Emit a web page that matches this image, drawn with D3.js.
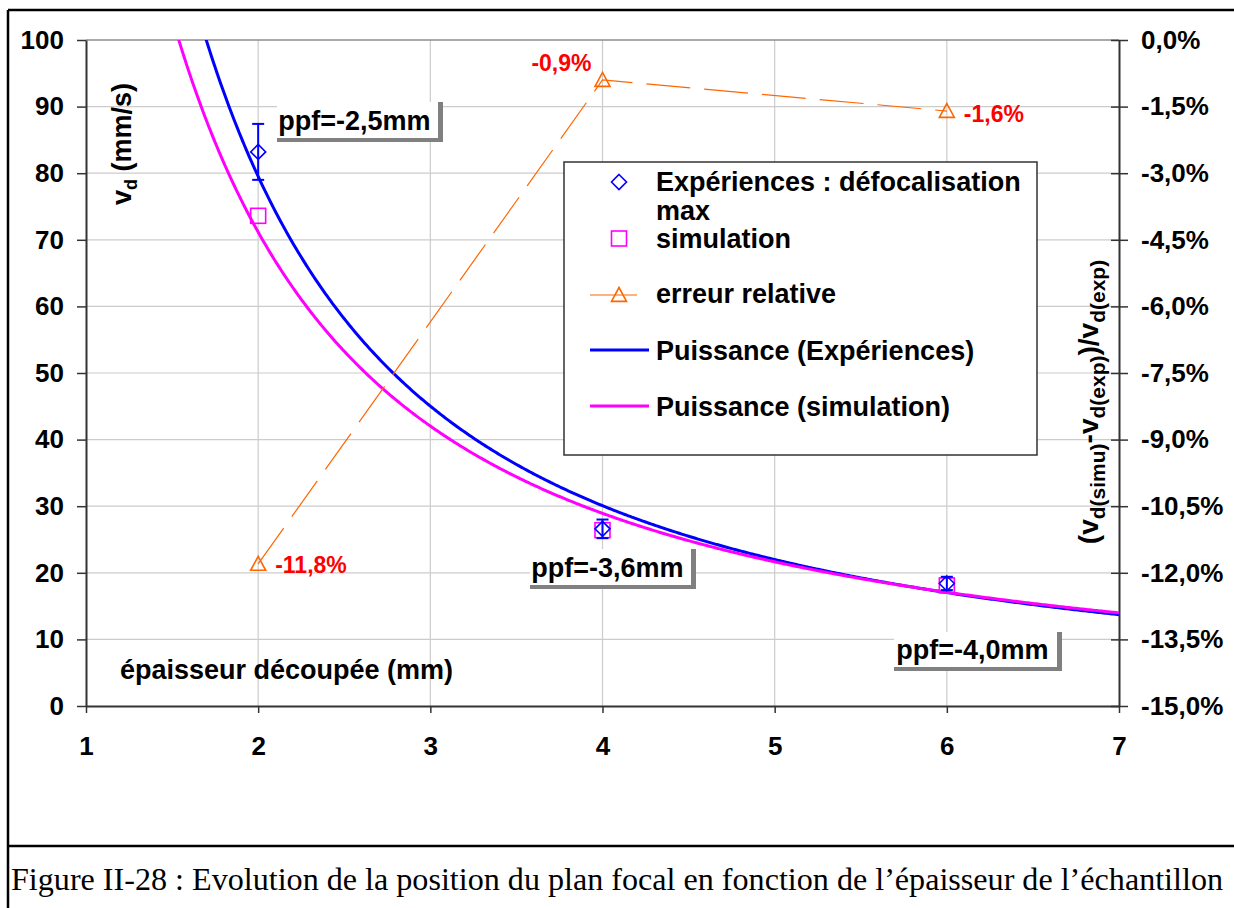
<!DOCTYPE html>
<html>
<head>
<meta charset="utf-8">
<script src="https://cdn.jsdelivr.net/npm/d3@7/dist/d3.min.js"></script>
<style>
  html, body { margin: 0; padding: 0; background: #ffffff; }
  svg { display: block; }
</style>
</head>
<body>
<script>
// Cut thickness (mm) and measured / simulated cutting speeds
const thickness = [2, 4, 6];
const vdExp = [83.2, 26.6, 18.4];
const vdExpErr = [4.2, 1.4, 1.0];
const vdSimu = [73.6, 26.4, 18.1];
const relErr = [-11.8, -0.9, -1.6];
const ppfLabels = ["ppf=-2,5mm", "ppf=-3,6mm", "ppf=-4,0mm"];

const xTicks = [1, 2, 3, 4, 5, 6, 7];
const yTicks = [0, 10, 20, 30, 40, 50, 60, 70, 80, 90, 100];
const yRightTicks = [0, -1.5, -3, -4.5, -6, -7.5, -9, -10.5, -12, -13.5, -15];

const legendLabels = [
  ["Expériences : défocalisation", "max"],
  ["simulation"],
  ["erreur relative"],
  ["Puissance (Expériences)"],
  ["Puissance (simulation)"]
];
const caption = "Figure II-28 : Evolution de la position du plan focal en fonction de l’épaisseur de l’échantillon";

const W = 1234, H = 908;
const plot = { left: 86, right: 1119, top: 40, bottom: 706 };
const SANS = 'Arial, "Liberation Sans", sans-serif';
const SERIF = '"Times New Roman", "Liberation Serif", serif';

const BLUE = "#0000ff", MAGENTA = "#ff00ff", ORANGE = "#ff6600", RED = "#ff0000";
const AXIS = "#333333", GRID = "#cccccc";

const fr = d3.formatLocale({ decimal: ",", thousands: " ", grouping: [3], currency: ["", "€"], minus: "-" });
const fmtPct = fr.format(".1f");
const fmtInt = fr.format("d");

const svg = d3.select("body").append("svg").attr("width", W).attr("height", H)
  .attr("font-family", SANS);
svg.append("rect").attr("width", W).attr("height", H).attr("fill", "#fff");

const x = d3.scaleLinear().domain([1, 7]).range([plot.left, plot.right]);
const y = d3.scaleLinear().domain([0, 100]).range([plot.bottom, plot.top]);
const yR = d3.scaleLinear().domain([-15, 0]).range([plot.bottom, plot.top]);

// page frame
svg.append("line").attr("x1", 8).attr("x2", W).attr("y1", 10).attr("y2", 10).attr("stroke", "#000").attr("stroke-width", 2.5);
svg.append("line").attr("x1", 8).attr("x2", 8).attr("y1", 10).attr("y2", H).attr("stroke", "#000").attr("stroke-width", 2.5);
svg.append("line").attr("x1", 8).attr("x2", W).attr("y1", 846).attr("y2", 846).attr("stroke", "#000").attr("stroke-width", 2.5);

// grid
const grid = svg.append("g");
grid.selectAll("line.vx").data(xTicks.slice(1, -1)).join("line")
  .attr("x1", d => x(d)).attr("x2", d => x(d)).attr("y1", plot.top).attr("y2", plot.bottom)
  .attr("stroke", GRID).attr("stroke-width", 1.2);
grid.selectAll("line.hy").data(yTicks.slice(1, -1)).join("line")
  .attr("x1", plot.left).attr("x2", plot.right).attr("y1", d => y(d)).attr("y2", d => y(d))
  .attr("stroke", GRID).attr("stroke-width", 1.2);
svg.append("line").attr("x1", plot.left).attr("x2", plot.right).attr("y1", plot.top).attr("y2", plot.top)
  .attr("stroke", "#8c8c8c").attr("stroke-width", 1.5);

// axes
function styleAxis(g) {
  g.attr("font-family", SANS).attr("font-size", 26);
  g.select(".domain").attr("stroke", AXIS).attr("stroke-width", 2);
  g.selectAll(".tick line").attr("stroke", AXIS).attr("stroke-width", 1.5);
  g.selectAll(".tick text").attr("fill", "#000").attr("font-weight", "bold");
}
const gL = svg.append("g").attr("transform", `translate(${plot.left},0)`)
  .call(d3.axisLeft(y).tickValues(yTicks).tickFormat(fmtInt).tickSize(9).tickSizeOuter(0).tickPadding(13));
styleAxis(gL);
const gB = svg.append("g").attr("transform", `translate(0,${plot.bottom})`)
  .call(d3.axisBottom(x).tickValues(xTicks).tickFormat(fmtInt).tickSize(7).tickSizeOuter(0).tickPadding(24));
styleAxis(gB);
const gR = svg.append("g").attr("transform", `translate(${plot.right},0)`)
  .call(d3.axisRight(yR).tickValues(yRightTicks).tickFormat(d => fmtPct(d) + "%").tickSize(9).tickSizeOuter(0).tickPadding(13));
styleAxis(gR);
gR.selectAll(".tick line").attr("x1", -8);

// power-law trend lines (least squares in log-log space)
function powerFit(xs, ys) {
  const lx = xs.map(Math.log), ly = ys.map(Math.log);
  const mx = d3.mean(lx), my = d3.mean(ly);
  const b = d3.sum(lx, (v, i) => (v - mx) * (ly[i] - my)) / d3.sum(lx, v => (v - mx) ** 2);
  const a = Math.exp(my - b * mx);
  return t => a * Math.pow(t, b);
}
const fitExp = powerFit(thickness, vdExp);
const fitSimu = powerFit(thickness, vdSimu);
const xs = d3.range(1, 7.0001, 0.01);

svg.append("clipPath").attr("id", "plotClip").append("rect")
  .attr("x", plot.left).attr("y", plot.top).attr("width", plot.right - plot.left).attr("height", plot.bottom - plot.top);

const curves = svg.append("g").attr("clip-path", "url(#plotClip)");
const lineGen = f => d3.line().x(d => x(d)).y(d => y(f(d)))(xs);
curves.append("path").attr("d", lineGen(fitExp)).attr("fill", "none").attr("stroke", BLUE).attr("stroke-width", 3);
curves.append("path").attr("d", lineGen(fitSimu)).attr("fill", "none").attr("stroke", MAGENTA).attr("stroke-width", 3);

// relative error series
const errPts = thickness.map((t, i) => [t, relErr[i]]);
svg.append("path")
  .attr("d", d3.line().x(d => x(d[0])).y(d => yR(d[1]))(errPts))
  .attr("fill", "none").attr("stroke", ORANGE).attr("stroke-width", 1.2).attr("stroke-dasharray", "44,14");

// marker shapes
const diamond = (cx, cy, r) => `M${cx},${cy - r}L${cx + r},${cy}L${cx},${cy + r}L${cx - r},${cy}Z`;
const triangle = (cx, cy, r) => `M${cx},${cy - r}L${cx + r},${cy + r * 0.85}L${cx - r},${cy + r * 0.85}Z`;

svg.selectAll("path.tri").data(errPts).join("path")
  .attr("d", d => triangle(x(d[0]), yR(d[1]), 7.5))
  .attr("fill", "none").attr("stroke", ORANGE).attr("stroke-width", 1.6);

// simulation squares
svg.selectAll("rect.sim").data(thickness).join("rect")
  .attr("x", (d, i) => x(d) - 7.5).attr("y", (d, i) => y(vdSimu[i]) - 7.5)
  .attr("width", 15).attr("height", 15)
  .attr("fill", "none").attr("stroke", MAGENTA).attr("stroke-width", 1.6);

// experimental points with error bars
const eb = svg.append("g").attr("stroke", BLUE).attr("stroke-width", 2);
thickness.forEach((t, i) => {
  const cx = x(t), top = y(vdExp[i] + vdExpErr[i]), bot = y(vdExp[i] - vdExpErr[i]);
  eb.append("line").attr("x1", cx).attr("x2", cx).attr("y1", top).attr("y2", bot);
  eb.append("line").attr("x1", cx - 6).attr("x2", cx + 6).attr("y1", top).attr("y2", top);
  eb.append("line").attr("x1", cx - 6).attr("x2", cx + 6).attr("y1", bot).attr("y2", bot);
});
svg.selectAll("path.exp").data(thickness).join("path")
  .attr("d", (d, i) => diamond(x(d), y(vdExp[i]), 7.5))
  .attr("fill", "none").attr("stroke", BLUE).attr("stroke-width", 1.6);

// relative error value labels
const errLabelPos = [
  { dx: 17, dy: 9, anchor: "start" },
  { dx: -11, dy: -9, anchor: "end" },
  { dx: 17, dy: 11, anchor: "start" }
];
svg.selectAll("text.err").data(errPts).join("text")
  .attr("x", (d, i) => x(d[0]) + errLabelPos[i].dx)
  .attr("y", (d, i) => yR(d[1]) + errLabelPos[i].dy)
  .attr("text-anchor", (d, i) => errLabelPos[i].anchor)
  .attr("font-size", 23).attr("font-weight", "bold").attr("fill", RED)
  .text(d => fmtPct(d[1]) + "%");

// focal plane position call-outs
const ppfBoxes = [
  { x: 277, y: 102, w: 161, h: 36 },
  { x: 530, y: 549, w: 161, h: 36 },
  { x: 894, y: 632, w: 163, h: 35 }
];
ppfLabels.forEach((lab, i) => {
  const b = ppfBoxes[i];
  svg.append("rect").attr("x", b.x).attr("y", b.y).attr("width", b.w + 5).attr("height", b.h + 4).attr("fill", "#808080");
  svg.append("rect").attr("x", b.x).attr("y", b.y).attr("width", b.w).attr("height", b.h).attr("fill", "#fff");
  svg.append("text").attr("x", b.x + b.w / 2 - 3).attr("y", b.y + b.h / 2 + 9.5)
    .attr("text-anchor", "middle").attr("font-size", 27).attr("font-weight", "bold").attr("fill", "#000")
    .text(lab);
});

// axis titles
const yTitle = svg.append("text").attr("transform", "translate(131,144) rotate(-90)")
  .attr("text-anchor", "middle").attr("font-size", 27).attr("font-weight", "bold").attr("fill", "#000");
yTitle.append("tspan").text("v");
yTitle.append("tspan").attr("font-size", 18).attr("dy", 6).text("d");
yTitle.append("tspan").attr("dy", -6).text(" (mm/s)");

svg.append("text").attr("x", 120).attr("y", 679)
  .attr("font-size", 27).attr("font-weight", "bold").attr("fill", "#000")
  .text("épaisseur découpée (mm)");

const rTitle = svg.append("text").attr("transform", "translate(1098,402) rotate(-90)")
  .attr("text-anchor", "middle").attr("font-size", 28).attr("font-weight", "bold").attr("fill", "#000");
[["(v", 0], ["d(simu)", 1], ["-v", 0], ["d(exp)", 1], [")/v", 0], ["d(exp)", 1]].forEach((p, i, arr) => {
  const prevSub = i > 0 && arr[i - 1][1];
  const ts = rTitle.append("tspan").text(p[0]);
  if (p[1]) ts.attr("font-size", 21).attr("dy", 7);
  else if (prevSub) ts.attr("dy", -7);
});

// legend
const lg = svg.append("g");
lg.append("rect").attr("x", 564).attr("y", 162).attr("width", 473).attr("height", 293)
  .attr("fill", "#fff").attr("stroke", "#333").attr("stroke-width", 1.5);
const lgText = (ty, lines) => {
  const t = lg.append("text").attr("x", 656).attr("y", ty)
    .attr("font-size", 27).attr("font-weight", "bold").attr("fill", "#000");
  lines.forEach((l, k) => t.append("tspan").attr("x", 656).attr("dy", k === 0 ? 0 : 29).text(l));
};
lg.append("path").attr("d", diamond(619, 182, 7.5)).attr("fill", "none").attr("stroke", BLUE).attr("stroke-width", 1.6);
lgText(191, legendLabels[0]);
lg.append("rect").attr("x", 611.5).attr("y", 231).attr("width", 15).attr("height", 15)
  .attr("fill", "none").attr("stroke", MAGENTA).attr("stroke-width", 1.6);
lgText(248, legendLabels[1]);
lg.append("line").attr("x1", 590).attr("x2", 637).attr("y1", 295).attr("y2", 295).attr("stroke", ORANGE).attr("stroke-width", 1.2);
lg.append("path").attr("d", triangle(619, 295, 7.5)).attr("fill", "none").attr("stroke", ORANGE).attr("stroke-width", 1.6);
lgText(303, legendLabels[2]);
lg.append("line").attr("x1", 590).attr("x2", 649).attr("y1", 350).attr("y2", 350).attr("stroke", BLUE).attr("stroke-width", 3);
lgText(360, legendLabels[3]);
lg.append("line").attr("x1", 590).attr("x2", 649).attr("y1", 406).attr("y2", 406).attr("stroke", MAGENTA).attr("stroke-width", 3);
lgText(416, legendLabels[4]);

// figure caption
svg.append("text").attr("x", 11).attr("y", 890)
  .attr("font-family", SERIF)
  .attr("font-size", 31).attr("fill", "#000")
  .attr("textLength", 1212).attr("lengthAdjust", "spacingAndGlyphs")
  .text(caption);
</script>
</body>
</html>
